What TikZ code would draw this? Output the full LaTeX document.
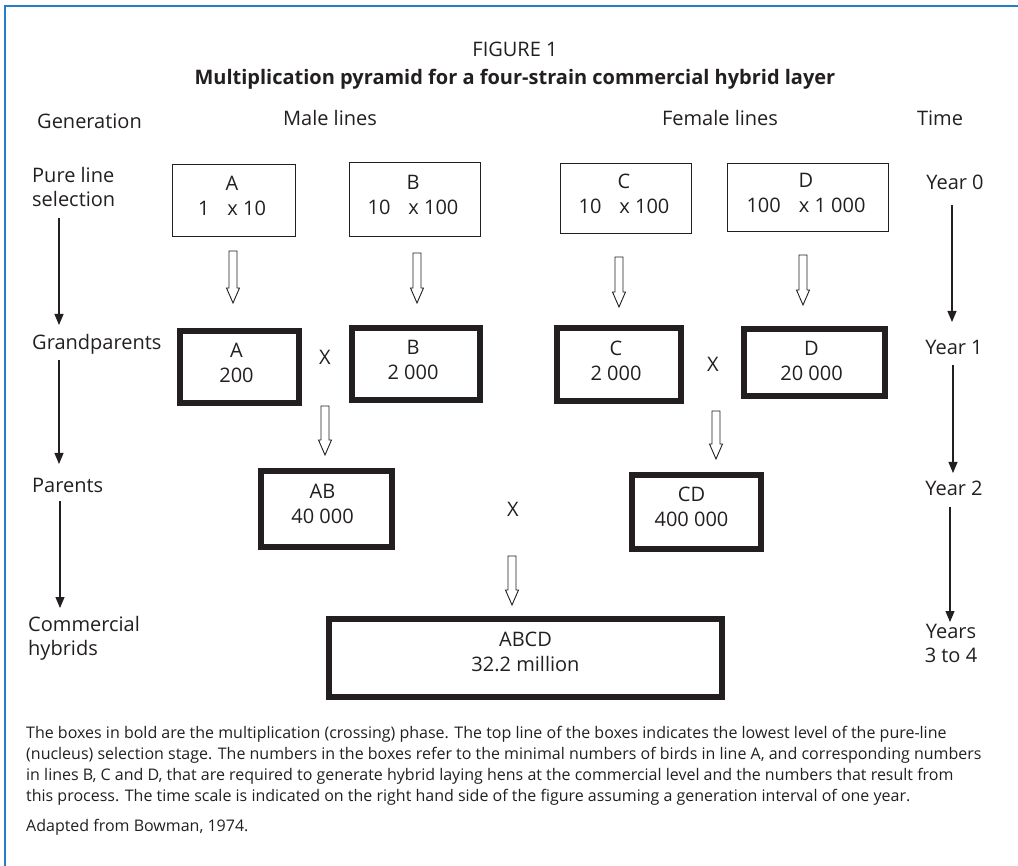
\documentclass[tikz,border=0pt]{standalone}
\usepackage{fontspec}
\setmainfont{Open Sans}
\usetikzlibrary{arrows.meta,calc}
\definecolor{frameblue}{RGB}{40,125,200}
\definecolor{ink}{RGB}{35,31,32}
\begin{document}
\begin{tikzpicture}[x=1pt,y=-1pt,
  every node/.style={font=\fontsize{20}{25}\selectfont, text=ink, inner sep=0pt},
  thinbox/.style={draw=ink, line width=1.3pt},
  thickbox/.style={draw=ink, line width=6pt},
  boxtext/.style={align=center},
  lbl/.style={anchor=base west},
  clbl/.style={anchor=base},
  genarrow/.style={draw=ink, line width=1.1pt, -{Triangle[length=11pt,width=9pt]}},
  hollow/.style={draw=ink, line width=0.9pt, fill=white,
    to path={let \p1=(\tikztostart), \p2=(\tikztotarget) in
      (\x1-4pt,\y1) -- (\x1+4pt,\y1) -- (\x1+4pt,\y2+15pt) -- (\x1+6.5pt,\y2+15pt)
      -- (\x1,\y2) -- (\x1-6.5pt,\y2+15pt) -- (\x1-4pt,\y2+15pt) -- cycle}}
]
\useasboundingbox (0,0) rectangle (1018,866);
% frame
\draw[frameblue, line width=1.6pt] (5,866) -- (5,6) -- (1018,6);

% titles
\node[clbl] (fig) at (515,57) {FIGURE 1};
\node[clbl, font=\fontsize{20}{25}\selectfont\bfseries] (title) at (515,85) {Multiplication pyramid for a four-strain commercial hybrid layer};

% column headings
\node[lbl] (hgen) at (37,129) {Generation};
\node[clbl] (hmale) at (330,126) {Male lines};
\node[clbl] (hfem) at (720,126) {Female lines};
\node[clbl] (htime) at (940,126) {Time};

% generation labels
\node[lbl] (gen0a) at (32,183) {Pure line};
\node[lbl] (gen0) at (32,207) {selection};
\node[lbl] (gen1) at (32,350) {Grandparents};
\node[lbl] (gen2) at (32,493) {Parents};
\node[lbl] (gen3) at (28,631) {Commercial};
\node[lbl] (gen3b) at (28,655) {hybrids};

% time labels
\node[clbl] (y0) at (955,190) {Year 0};
\node[clbl] (y1) at (954,355) {Year 1};
\node[clbl] (y2) at (954,496) {Year 2};
\node[clbl] (y3) at (951,638) {Years};
\node[clbl] (y3b) at (951,662) {3 to 4};

% pure line boxes
\node[thinbox, minimum width=122.7, minimum height=71.7] (pA) at (234,200.5) {};
\node[thinbox, minimum width=130.7, minimum height=73.7] (pB) at (415,199.5) {};
\node[thinbox, minimum width=130.7, minimum height=69.7] (pC) at (626,198.5) {};
\node[thinbox, minimum width=160.7, minimum height=67.7] (pD) at (808,197.5) {};
\node[boxtext] at ($(pA)+(-2,-5)$) {A\\1\hspace{0.9em}x 10};
\node[boxtext] at ($(pB)+(-2,-5)$) {B\\10\hspace{0.9em}x 100};
\node[boxtext] at ($(pC)+(-2,-5)$) {C\\10\hspace{0.9em}x 100};
\node[boxtext] at ($(pD)+(-2,-5)$) {D\\100\hspace{0.9em}x 1 000};

% grandparent boxes
\node[thickbox, minimum width=119, minimum height=72] (gA) at (239.5,367) {};
\node[thickbox, minimum width=128, minimum height=72] (gB) at (416,364) {};
\node[thickbox, minimum width=124, minimum height=73] (gC) at (619,364.5) {};
\node[thickbox, minimum width=141, minimum height=67] (gD) at (814.5,362.5) {};
\node[boxtext] at ($(gA)+(-3,-4)$) {A\\200};
\node[boxtext] at ($(gB)+(-3,-4)$) {B\\2 000};
\node[boxtext] at ($(gC)+(-3,-4)$) {C\\2 000};
\node[boxtext] at ($(gD)+(-3,-2)$) {D\\20 000};
\node[clbl] (x1) at (325,365) {X};
\node[clbl] (x2) at (713,372) {X};

% parent boxes
\node[thickbox, minimum width=131, minimum height=76] (pAB) at (326.5,509) {};
\node[thickbox, minimum width=129, minimum height=74] (pCD) at (696.5,512) {};
\node[boxtext] at ($(pAB)+(-4,-5)$) {AB\\40 000};
\node[boxtext] at ($(pCD)+(-5,-5)$) {CD\\400 000};
\node[clbl] (x3) at (513,516) {X};

% commercial box
\node[thickbox, minimum width=393, minimum height=78] (pABCD) at (525.5,658) {};
\node[boxtext] at ($(pABCD)+(0,-6)$) {ABCD\\32.2 million};

% hollow arrows
\draw[hollow] ($(pA.south -| 233,0)+(0,14)$) to ($(gA.north -| 233,0)+(0,-25)$);
\draw[hollow] ($(pB.south -| 417,0)+(0,16)$) to ($(gB.north -| 417,0)+(0,-22)$);
\draw[hollow] ($(pC.south -| 619,0)+(0,23)$) to ($(gC.north -| 619,0)+(0,-18)$);
\draw[hollow] ($(pD.south -| 803,0)+(0,23)$) to ($(gD.north -| 803,0)+(0,-21)$);
\draw[hollow] ($(gA.south -| 325,0)+(0,0)$) to ($(pAB.north -| 325,0)+(0,-13)$);
\draw[hollow] ($(gC.south -| 716,0)+(0,7)$) to ($(pCD.north -| 716,0)+(0,-13)$);
\draw[hollow] ($(pAB.south -| 512,0)+(0,6)$) to ($(pABCD.north -| 512,0)+(0,-11)$);

% generation arrows
\draw[genarrow] ($(gen0.base -| 59,0)+(0,11)$) -- ($(gen1.base -| 59,0)+(0,-25)$);
\draw[genarrow] ($(gen1.base -| 59,0)+(0,10)$) -- ($(gen2.base -| 59,0)+(0,-29)$);
\draw[genarrow] ($(gen2.base -| 60,0)+(0,8)$) -- ($(gen3.base -| 60,0)+(0,-23)$);

% time arrows
\draw[genarrow] ($(y0.base -| 952,0)+(0,15)$) -- ($(y1.base -| 952,0)+(0,-33)$);
\draw[genarrow] ($(y1.base -| 953,0)+(0,10)$) -- ($(y2.base -| 953,0)+(0,-23)$);
\draw[genarrow] ($(y2.base -| 950,0)+(0,11)$) -- ($(y3.base -| 950,0)+(0,-16)$);

% caption
\node[anchor=north west, align=left, font=\fontsize{16}{21}\selectfont] (cap) at (26,726.5)
{The boxes in bold are the multiplication (crossing) phase. The top line of the boxes indicates the lowest level of the pure-line\\
(nucleus) selection stage. The numbers in the boxes refer to the minimal numbers of birds in line A, and corresponding numbers\\
in lines B, C and D, that are required to generate hybrid laying hens at the commercial level and the numbers that result from\\
this process. The time scale is indicated on the right hand side of the figure assuming a generation interval of one year.\\[9pt]
Adapted from Bowman, 1974.};
\end{tikzpicture}
\end{document}
